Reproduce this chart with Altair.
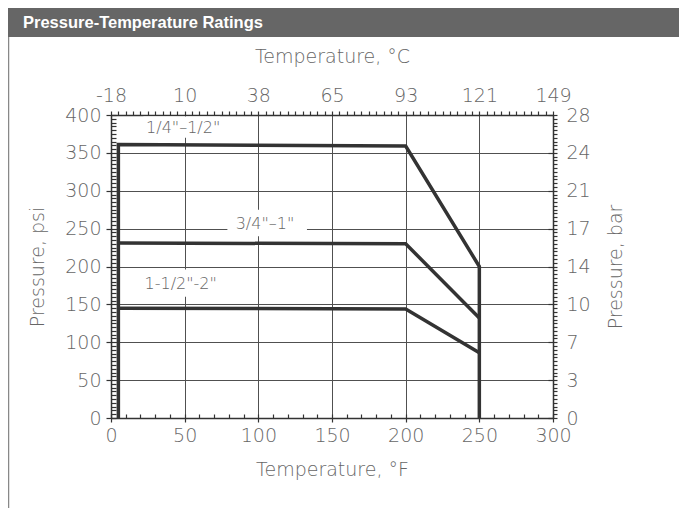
import json
import altair as alt
import pandas as pd

# ---------------- data ----------------
series_names = ['1/4"–1/2"', '3/4"–1"', '1-1/2"-2"']
s1_temp_f = [5, 5, 200, 250, 250]
s1_psi = [0, 361, 359, 200, 0]
s2_temp_f = [5, 200, 250]
s2_psi = [231, 230, 132]
s3_temp_f = [5, 200, 250]
s3_psi = [145, 144, 86]

f_ticks = [0, 50, 100, 150, 200, 250, 300]
c_labels = ["-18", "10", "38", "65", "93", "121", "149"]
psi_ticks = [0, 50, 100, 150, 200, 250, 300, 350, 400]
bar_labels = ["0", "3", "7", "10", "14", "17", "21", "24", "28"]

# series label annotations (data units) and the white gaps behind them
label_temp = [49, 104.5, 47.3]
label_psi = [383, 256, 177]
gap_t1 = [22, 79, 24]
gap_t2 = [74, 133, 71]
gap_p1 = [370, 240, 160]
gap_p2 = [398, 275, 196]

header_title = "Pressure-Temperature Ratings"

# ---------------- tables ----------------
rows = []
for name, xs_, ys_ in zip(series_names, [s1_temp_f, s2_temp_f, s3_temp_f], [s1_psi, s2_psi, s3_psi]):
    for i, (t, p) in enumerate(zip(xs_, ys_)):
        rows.append({"series": name, "order": i, "t": t, "p": p})
lines_df = pd.DataFrame(rows)

labels_df = pd.DataFrame({
    "label": series_names, "t": label_temp, "p": label_psi,
    "t1": gap_t1, "t2": gap_t2, "p1": gap_p1, "p2": gap_p2,
})
header_df = pd.DataFrame({"title": [header_title]})

# ---------------- styling ----------------
FONT = "DejaVu Sans"
LC = "#666666"
AX = "#333333"
GRID = "#505050"

xscale = alt.Scale(domain=[0, 300], nice=False, zero=False)
yscale = alt.Scale(domain=[0, 400], nice=False, zero=False)

common = dict(labelFont=FONT, labelFontSize=19, labelFontWeight=300, labelColor=LC,
              titleFont=FONT, titleFontSize=19, titleFontWeight=300, titleColor=LC,
              tickColor=AX, tickWidth=1.2, domainColor=AX, domainWidth=1.5,
              labelFlush=False, labelOverlap=False)

minor = dict(labels=False, domain=False, grid=False, title=None,
             tickColor=AX, tickWidth=1.2)

top_expr = f"datum.value % 50 === 0 ? {json.dumps(c_labels)}[datum.value / 50] : ''"
right_expr = f"datum.value % 50 === 0 ? {json.dumps(bar_labels)}[datum.value / 50] : ''"

base = alt.Chart(lines_df)

# main lines with bottom/left axes and grid
lines = base.mark_line(color="#333333", strokeWidth=3.5, strokeJoin="miter").encode(
    x=alt.X("t:Q", scale=xscale, axis=alt.Axis(
        orient="bottom", values=f_ticks, tickSize=4, labelPadding=4, format="d",
        title="Temperature, °F", titlePadding=15, grid=True, gridColor=GRID, gridWidth=1,
        **common)),
    y=alt.Y("p:Q", scale=yscale, axis=alt.Axis(
        orient="left", values=psi_ticks, tickSize=5, labelPadding=5, format="d",
        title="Pressure, psi", titlePadding=17, grid=True, gridColor=GRID, gridWidth=1,
        **common)),
    detail="series:N",
    order="order:Q",
)

# inward minor ticks, bottom and left
minor_bl = base.mark_point(opacity=0, size=0).encode(
    x=alt.X("t:Q", scale=xscale, axis=alt.Axis(
        orient="bottom", values=list(range(0, 301, 10)), offset=-4, tickSize=4, **minor)),
    y=alt.Y("p:Q", scale=yscale, axis=alt.Axis(
        orient="left", values=list(range(0, 401, 5)), offset=-5, tickSize=5, **minor)),
)

# top (°C) and right (bar) axes
top_right = base.mark_point(opacity=0, size=0).encode(
    x=alt.X("t:Q", scale=xscale, axis=alt.Axis(
        orient="top", values=list(range(0, 301, 5)), tickSize=4, labelPadding=6,
        labelExpr=top_expr, title="Temperature, °C", titlePadding=20, grid=False,
        **common)),
    y=alt.Y("p:Q", scale=yscale, axis=alt.Axis(
        orient="right", values=list(range(0, 401, 5)), tickSize=4, labelPadding=9,
        labelExpr=right_expr, title="Pressure, bar", titlePadding=16, titleAngle=270,
        titleBaseline="top", grid=False, **common)),
)

# inward major ticks, right side
minor_r = base.mark_point(opacity=0, size=0).encode(
    x=alt.X("t:Q", scale=xscale, axis=None),
    y=alt.Y("p:Q", scale=yscale, axis=alt.Axis(
        orient="right", values=psi_ticks, offset=-5, tickSize=5, **minor)),
)

gaps = alt.Chart(labels_df).mark_rect(color="white").encode(
    x=alt.X("t1:Q", scale=xscale, axis=None), x2="t2:Q",
    y=alt.Y("p1:Q", scale=yscale, axis=None), y2="p2:Q",
)

texts = alt.Chart(labels_df).mark_text(
    font=FONT, fontSize=16, fontWeight=300, color=LC, align="center", baseline="middle"
).encode(
    x=alt.X("t:Q", scale=xscale, axis=None),
    y=alt.Y("p:Q", scale=yscale, axis=None),
    text="label:N",
)

header_bar = alt.Chart(header_df).mark_rect(color="#666666").encode(
    x=alt.value(-103), x2=alt.value(568), y=alt.value(-107), y2=alt.value(-78)
)
header_text = alt.Chart(header_df).mark_text(
    align="left", baseline="alphabetic",
    font="Liberation Sans",
    fontWeight="bold", fontSize=16.5, color="white",
).encode(x=alt.value(-88), y=alt.value(-87), text="title:N")
left_border = alt.Chart(header_df).mark_rule(color="#888888", strokeWidth=1.5).encode(
    x=alt.value(-102.5), y=alt.value(-78), y2=alt.value(393)
)

chart = alt.layer(
    header_bar, header_text, left_border,
    minor_bl, top_right, minor_r, gaps, lines, texts,
).resolve_axis(x="independent", y="independent").properties(
    width=442, height=303,
    padding={"left": 103, "top": 107, "right": 126, "bottom": 90},
    autosize=alt.AutoSizeParams(type="none"),
    background="white",
).configure_view(stroke=None)

chart.save("out.html", embed_options={"renderer": "svg", "actions": False})
